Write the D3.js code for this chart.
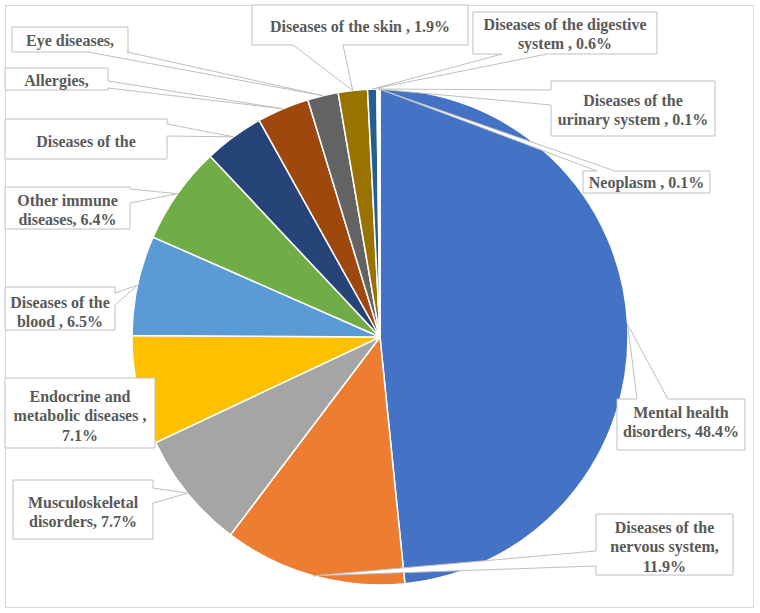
<!DOCTYPE html>
<html>
<head>
<meta charset="utf-8">
<script src="https://cdn.jsdelivr.net/npm/d3@7"></script>
<style>
  html, body { margin: 0; padding: 0; background: #ffffff; }
  svg { display: block; }
  text.lbl { font-family: "Liberation Serif", "Tinos", "Times New Roman", "DejaVu Serif", serif; font-weight: bold; font-size: 16px; fill: #595959; }
</style>
</head>
<body>
<svg id="chart" width="760" height="613"></svg>
<script>
// ---- data ----
const categories = [
  "Mental health disorders",
  "Diseases of the nervous system",
  "Musculoskeletal disorders",
  "Endocrine and metabolic diseases",
  "Diseases of the blood",
  "Other immune diseases",
  "Diseases of the respiratory system",
  "Allergies",
  "Eye diseases",
  "Diseases of the skin",
  "Diseases of the digestive system",
  "Diseases of the urinary system",
  "Neoplasm"
];
const values = [48.4, 11.9, 7.7, 7.1, 6.5, 6.4, 3.9, 3.4, 2.0, 1.9, 0.6, 0.1, 0.1];
const colors = ["#4472C4", "#ED7D31", "#A5A5A5", "#FFC000", "#5B9BD5", "#70AD47",
                "#264478", "#9E480E", "#636363", "#997300", "#255E91", "#43682B", "#698ED0"];
// label text lines as displayed in the chart
const labelLines = [
  ["Mental health", "disorders, 48.4%"],
  ["Diseases of the", "nervous system,", "11.9%"],
  ["Musculoskeletal", "disorders, 7.7%"],
  ["Endocrine and", "metabolic diseases ,", "7.1%"],
  ["Diseases of the", "blood , 6.5%"],
  ["Other immune", "diseases, 6.4%"],
  ["Diseases of the"],
  ["Allergies,"],
  ["Eye diseases,"],
  ["Diseases of the skin , 1.9%"],
  ["Diseases of the digestive", "system , 0.6%"],
  ["Diseases of the", "urinary system , 0.1%"],
  ["Neoplasm , 0.1%"]
];

// ---- layout (callout boxes: x0,y0,x1,y1, text center y of first line, wedge side & base) ----
const boxes = [
  {x0: 617, y0: 399, x1: 745, y1: 450, ty: 412, side: "top",    a: 637, b: 668},
  {x0: 596, y0: 514, x1: 733, y1: 575, ty: 527, side: "left",   a: 551, b: 566},
  {x0: 13,  y0: 480, x1: 153, y1: 539, ty: 502, side: "right",  a: 488, b: 503},
  {x0: 5,   y0: 378, x1: 155, y1: 448, ty: 396, side: null},
  {x0: 5,   y0: 287, x1: 115, y1: 330, ty: 302, side: "right",  a: 293, b: 305},
  {x0: 5,   y0: 187, x1: 130, y1: 229, ty: 200, side: "right",  a: 189, b: 203},
  {x0: 5,   y0: 119, x1: 167, y1: 159, ty: 141, side: "right",  a: 124, b: 136},
  {x0: 5,   y0: 68,  x1: 108, y1: 90,  ty: 80,  side: "right",  a: 81,  b: 88},
  {x0: 12,  y0: 27,  x1: 128, y1: 52,  ty: 40,  side: "bottom", a: 88,  b: 127},
  {x0: 252, y0: 5,   x1: 468, y1: 45,  ty: 26,  side: "bottom", a: 293, b: 343},
  {x0: 473, y0: 12,  x1: 657, y1: 54,  ty: 24,  side: "bottom", a: 502, b: 547},
  {x0: 551, y0: 81,  x1: 715, y1: 136, ty: 100, side: "left",   a: 90,  b: 105},
  {x0: 583, y0: 171, x1: 710, y1: 193, ty: 182, side: "top",    a: 597, b: 615}
];

const cx = 380, cy = 337, R = 248;
const lineH = 19.5;

const svg = d3.select("#chart");

// chart area border
svg.append("rect")
  .attr("x", 5.5).attr("y", 5.5)
  .attr("width", 748).attr("height", 602)
  .attr("fill", "#fff")
  .attr("stroke", "#d9d9d9")
  .attr("stroke-width", 1);

const pie = d3.pie().sort(null).value(d => d)
  .startAngle(0).endAngle(2 * Math.PI);
const arcs = pie(values);

const arc = d3.arc().innerRadius(0).outerRadius(R);
const tipArc = d3.arc().innerRadius(R).outerRadius(R);

const g = svg.append("g").attr("transform", `translate(${cx},${cy})`);
g.selectAll("path.slice")
  .data(arcs)
  .join("path")
  .attr("class", "slice")
  .attr("d", arc)
  .attr("fill", (d, i) => colors[i])
  .attr("stroke", "#ffffff")
  .attr("stroke-width", 1.5)
  .attr("stroke-linejoin", "round");

// callouts
function calloutPath(bx, tip) {
  const {x0, y0, x1, y1, side, a, b} = bx;
  const pts = [];
  pts.push([x0, y0]);
  if (side === "top") { pts.push([a, y0], tip, [b, y0]); }
  pts.push([x1, y0]);
  if (side === "right") { pts.push([x1, a], tip, [x1, b]); }
  pts.push([x1, y1]);
  if (side === "bottom") { pts.push([b, y1], tip, [a, y1]); }
  pts.push([x0, y1]);
  if (side === "left") { pts.push([x0, b], tip, [x0, a]); }
  return "M" + pts.map(p => p[0] + "," + p[1]).join("L") + "Z";
}

const labels = svg.append("g");
arcs.forEach((d, i) => {
  const bx = boxes[i];
  const c = tipArc.centroid(d);
  const tip = [cx + c[0], cy + c[1]];
  labels.append("path")
    .attr("d", calloutPath(bx, tip))
    .attr("fill", "#ffffff")
    .attr("stroke", "#bfbfbf")
    .attr("stroke-width", 1)
    .attr("stroke-linejoin", "miter");
  const t = labels.append("text")
    .attr("class", "lbl")
    .attr("x", (bx.x0 + bx.x1) / 2)
    .attr("y", bx.ty)
    .attr("text-anchor", "middle");
  labelLines[i].forEach((ln, j) => {
    t.append("tspan")
      .attr("x", (bx.x0 + bx.x1) / 2)
      .attr("y", bx.ty + j * lineH)
      .attr("dy", "0.35em")
      .text(ln);
  });
});
</script>
</body>
</html>
